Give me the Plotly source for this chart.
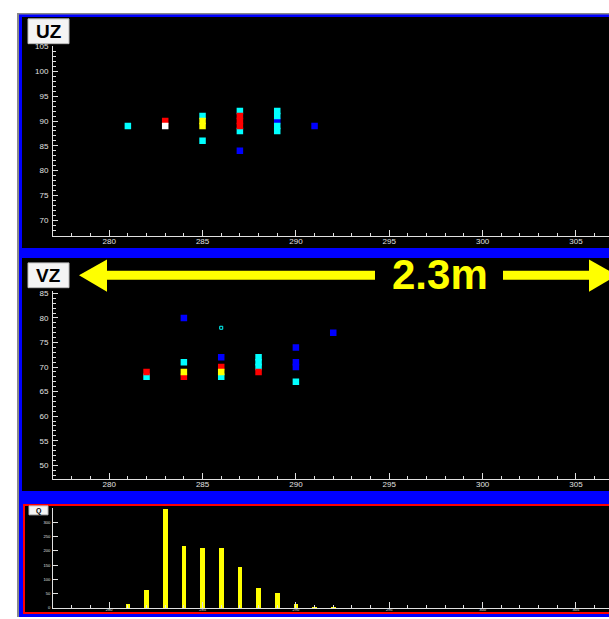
import plotly.graph_objects as go

W, H = 609, 619

# ---------------- data ----------------
# UZ panel
uz_blue_x = [287, 289, 291]
uz_blue_y = [84, 90, 89]
uz_cyan_x = [281, 285, 285, 287, 287, 289, 289, 289, 289]
uz_cyan_y = [89, 91, 86, 92, 88, 88, 89, 91, 92]
uz_yellow_x = [285, 285]
uz_yellow_y = [89, 90]
uz_red_x = [283, 287, 287, 287]
uz_red_y = [90, 89, 90, 91]
uz_white_x = [283]
uz_white_y = [89]

# VZ panel
vz_blue_x = [284, 286, 290, 290, 290, 292]
vz_blue_y = [80, 72, 74, 71, 70, 77]
vz_cyan_x = [282, 284, 286, 288, 288, 288, 290]
vz_cyan_y = [68, 71, 68, 72, 71, 70, 67]
vz_yellow_x = [284, 286]
vz_yellow_y = [69, 69]
vz_red_x = [282, 284, 286, 288]
vz_red_y = [69, 68, 70, 69]
vz_open_x = [286]
vz_open_y = [78]

# Q histogram
q_x = [281, 282, 283, 284, 285, 286, 287, 288, 289, 290, 291, 292]
q_y = [14, 63, 347, 217, 212, 212, 145, 69, 54, 14, 5, 5]

x_tick_vals = [280, 285, 290, 295, 300, 305]
x_tick_text = ["280", "285", "290", "295", "300", "305"]
uz_tick_vals = [70, 75, 80, 85, 90, 95, 100, 105]
vz_tick_vals = [50, 55, 60, 65, 70, 75, 80, 85]
q_tick_vals = [0, 50, 100, 150, 200, 250, 300]

label_text = "2.3m"

# ---------------- helpers ----------------
def px(x):
    return x / W

def py(y):
    return 1 - y / H

def rect(x0, y0, x1, y1, fill, line=None, lw=0):
    return dict(type="rect", xref="paper", yref="paper",
                x0=px(x0), x1=px(x1), y0=py(y1), y1=py(y0),
                fillcolor=fill, line=dict(color=line or fill, width=lw),
                layer="below")

def poly(pts, fill):
    d = "M " + " L ".join(f"{px(a):.5f},{py(b):.5f}" for a, b in pts) + " Z"
    return dict(type="path", xref="paper", yref="paper", path=d,
                fillcolor=fill, line=dict(color=fill, width=0), layer="above")

fig = go.Figure()

MS = 6.5
def pts(x, y, color, xa, ya, symbol="square", size=MS):
    fig.add_trace(go.Scatter(x=x, y=y, mode="markers", xaxis=xa, yaxis=ya,
                             marker=dict(symbol=symbol, size=size, color=color,
                                         line=dict(width=0 if "open" not in symbol else 1, color=color)),
                             showlegend=False, hoverinfo="skip"))

# UZ
pts(uz_blue_x, uz_blue_y, "#0000ff", "x", "y")
pts(uz_cyan_x, uz_cyan_y, "#00ffff", "x", "y")
pts(uz_yellow_x, uz_yellow_y, "#ffff00", "x", "y")
pts(uz_red_x, uz_red_y, "#ff0000", "x", "y")
pts(uz_white_x, uz_white_y, "#ffffff", "x", "y")
# VZ
pts(vz_blue_x, vz_blue_y, "#0000ff", "x2", "y2")
pts(vz_cyan_x, vz_cyan_y, "#00ffff", "x2", "y2")
pts(vz_red_x, vz_red_y, "#ff0000", "x2", "y2")
pts(vz_yellow_x, vz_yellow_y, "#ffff00", "x2", "y2")
pts(vz_open_x, vz_open_y, "#00ffff", "x2", "y2", symbol="square-open", size=3)
# Q
fig.add_trace(go.Bar(x=q_x, y=q_y, xaxis="x3", yaxis="y3", width=0.25,
                     marker=dict(color="#ffff00", line=dict(width=0)),
                     showlegend=False, hoverinfo="skip"))

XR = [280 - (109.2 - 53) / 18.67, 280 + (609 - 109.2) / 18.67]
AX = "#e0e0e0"

def xaxis(anchor, fs, standoff):
    return dict(domain=[px(53), 1.0], range=XR, anchor=anchor,
                showgrid=False, zeroline=False, showline=True, linecolor=AX, linewidth=1,
                ticks="inside", ticklen=6, tickcolor=AX, tickwidth=1,
                tickvals=x_tick_vals, ticktext=x_tick_text,
                tickfont=dict(family="Arial", size=fs, color=AX),
                ticklabelstandoff=standoff,
                minor=dict(tickvals=list(range(277, 307)), ticks="inside", ticklen=3,
                           tickcolor=AX, tickwidth=1),
                fixedrange=True)

def yaxis(anchor, dom, rng, vals, fs, minor_vals=None, tl=5, standoff=2):
    d = dict(domain=dom, range=rng, anchor=anchor,
             showgrid=False, zeroline=False, showline=True, linecolor=AX, linewidth=1,
             ticks="inside", ticklen=tl, tickcolor=AX, tickwidth=1,
             tickvals=vals, tickfont=dict(family="Arial", size=fs, color=AX),
             ticklabelstandoff=standoff,
             fixedrange=True)
    if minor_vals:
        d["minor"] = dict(tickvals=minor_vals, ticks="inside", ticklen=2.5,
                          tickcolor=AX, tickwidth=1)
    return d

uz_range = [70 - (235 - 219) / 5.0, 70 + (219 - 43) / 5.0]
vz_range = [50 - (480 - 466) / 4.95, 50 + (466 - 290) / 4.95]
q_range = [0, (610 - 509) / 0.288]

shapes = [
    rect(17, 10, 609, 619, "#8a8a8a"),
    rect(19, 11.5, 609, 619, "#0000ff"),
    rect(22, 14, 609, 247, "#000000"),
    rect(22, 257, 609, 492, "#000000"),
    rect(23, 505, 609, 616, "#ff0000"),
    rect(25, 507, 609, 614, "#000000"),
    # label boxes
    rect(28, 16, 69, 41, "#f4f4f4", "#bbbbbb", 1),
    rect(28, 262, 69, 287, "#f4f4f4", "#bbbbbb", 1),
    rect(29, 507, 48, 516, "#f4f4f4", "#bbbbbb", 1),
    # arrows
    poly([(79, 274.5), (107, 258.5), (107, 291)], "#ffff00"),
    poly([(107, 270), (375, 270), (375, 279), (107, 279)], "#ffff00"),
    poly([(503, 270), (589.5, 270), (589.5, 279), (503, 279)], "#ffff00"),
    poly([(617, 274.5), (589, 258.5), (589, 291)], "#ffff00"),
]

annotations = [
    dict(text="<b>UZ</b>", x=px(48.5), y=py(29), xref="paper", yref="paper",
         showarrow=False, font=dict(family="Arial", size=19, color="#000000"),
         xanchor="center", yanchor="middle"),
    dict(text="<b>VZ</b>", x=px(48.5), y=py(275), xref="paper", yref="paper",
         showarrow=False, font=dict(family="Arial", size=19, color="#000000"),
         xanchor="center", yanchor="middle"),
    dict(text="<b>Q</b>", x=px(38.5), y=py(512), xref="paper", yref="paper",
         showarrow=False, font=dict(family="Arial", size=7, color="#000000"),
         xanchor="center", yanchor="middle"),
    dict(text=f"<b>{label_text}</b>", x=px(440.5), y=py(274), xref="paper", yref="paper",
         showarrow=False, font=dict(family="Arial", size=42, color="#ffff00"),
         xanchor="center", yanchor="middle"),
]

fig.update_layout(
    width=W, height=H, margin=dict(l=0, r=0, t=0, b=0),
    paper_bgcolor="#ffffff", plot_bgcolor="rgba(0,0,0,0)",
    showlegend=False, bargap=0,
    xaxis=xaxis("y", 8, -3),
    yaxis=yaxis("x", [py(235), py(43)], uz_range, uz_tick_vals, 8, list(range(67, 106))),
    xaxis2=xaxis("y2", 8, -3),
    yaxis2=yaxis("x2", [py(480), py(290)], vz_range, vz_tick_vals, 8, list(range(48, 86))),
    xaxis3=xaxis("y3", 4, -3),
    yaxis3=yaxis("x3", [py(610), py(509)], q_range, q_tick_vals, 4, None, 5, 1),
    shapes=shapes, annotations=annotations,
)

fig.write_html(
    "out.html",
    config={"displayModeBar": False, "staticPlot": True},
    post_script="document.body.style.margin='0';document.body.style.padding='0';document.body.style.overflow='hidden';",
)
